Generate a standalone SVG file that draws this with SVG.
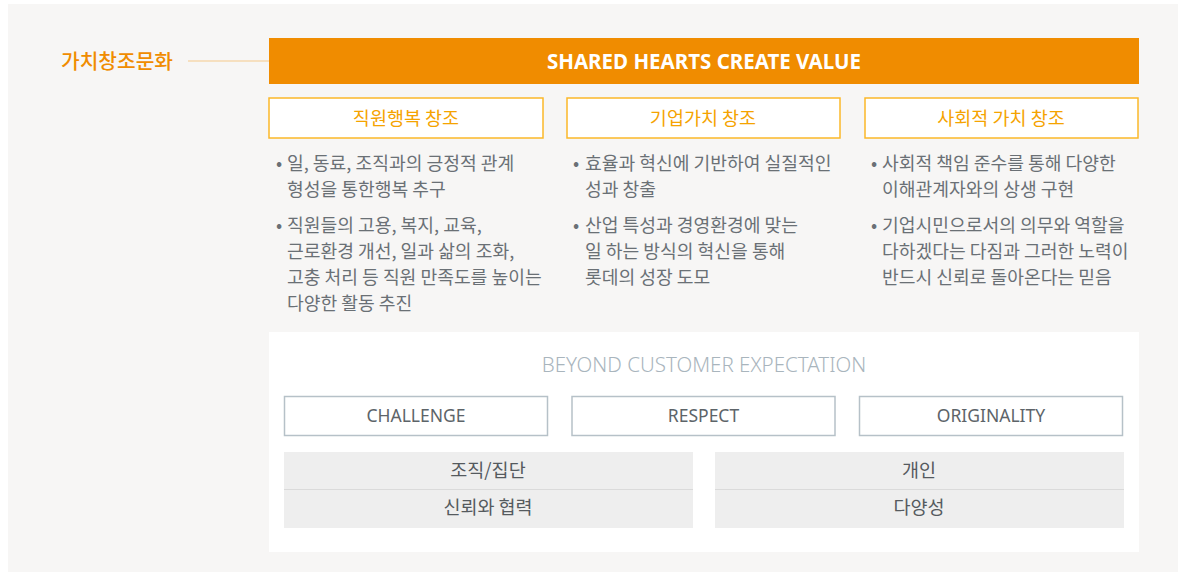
<svg xmlns="http://www.w3.org/2000/svg" width="1186" height="574" viewBox="0 0 1186 574">
<style>
.kr{font-family:"Noto Sans CJK KR","Noto Sans",sans-serif}
.hdr{fill:#fff;stroke:#fbb829;stroke-width:1.5}
.hdrt{font-size:18.5px;fill:#f5a300;text-anchor:middle}
.bl{font-size:18.2px;fill:#6a7075}
.vbox{fill:#fff;stroke:#b6c1c8;stroke-width:1.5}
.vt{font-family:"Noto Sans","Noto Sans CJK KR",sans-serif;font-size:17.5px;fill:#5d6469;text-anchor:middle}
.gbox{fill:#eeeeee}
.gt{font-size:18.5px;fill:#555a5e;text-anchor:middle}
</style>
<rect x="0" y="0" width="1186" height="574" fill="#ffffff"/>
<rect x="8" y="4" width="1170" height="568" fill="#f7f6f5"/>
<g id="connectors">
<line x1="188" y1="61" x2="269" y2="61" stroke="#f5c98a" stroke-width="1"/>
</g>
<g id="label-culture">
<text x="61" y="68.5" class="kr" font-size="20.3" font-weight="500" fill="#f08c00">가치창조문화</text>
</g>
<g id="banner">
<rect x="269" y="38" width="870" height="46" fill="#f08c00"/>
<text x="704" y="68.5" font-family="Noto Sans, sans-serif" font-weight="700" font-size="20.5" fill="#ffffff" text-anchor="middle">SHARED HEARTS CREATE VALUE</text>
</g>
<g id="col1">
<rect class="hdr" x="269" y="98" width="274" height="40"/>
<text class="kr hdrt" x="406" y="124.5">직원행복 창조</text>
<g class="kr bl">
<text x="276" y="170">•</text>
<text x="287" y="170">일, 동료, 조직과의 긍정적 관계</text>
<text x="287" y="196">형성을 통한행복 추구</text>
<text x="276" y="232">•</text>
<text x="287" y="232">직원들의 고용, 복지, 교육,</text>
<text x="287" y="258">근로환경 개선, 일과 삶의 조화,</text>
<text x="287" y="284">고충 처리 등 직원 만족도를 높이는</text>
<text x="287" y="310">다양한 활동 추진</text>
</g>
</g>
<g id="col2">
<rect class="hdr" x="567" y="98" width="273" height="40"/>
<text class="kr hdrt" x="703" y="124.5">기업가치 창조</text>
<g class="kr bl">
<text x="573" y="170">•</text>
<text x="585" y="170">효율과 혁신에 기반하여 실질적인</text>
<text x="585" y="196">성과 창출</text>
<text x="573" y="232">•</text>
<text x="585" y="232">산업 특성과 경영환경에 맞는</text>
<text x="585" y="258">일 하는 방식의 혁신을 통해</text>
<text x="585" y="284">롯데의 성장 도모</text>
</g>
</g>
<g id="col3">
<rect class="hdr" x="865" y="98" width="273" height="40"/>
<text class="kr hdrt" x="1001" y="124.5">사회적 가치 창조</text>
<g class="kr bl">
<text x="871" y="170">•</text>
<text x="882" y="170">사회적 책임 준수를 통해 다양한</text>
<text x="882" y="196">이해관계자와의 상생 구현</text>
<text x="871" y="232">•</text>
<text x="882" y="232">기업시민으로서의 의무와 역할을</text>
<text x="882" y="258">다하겠다는 다짐과 그러한 노력이</text>
<text x="882" y="284">반드시 신뢰로 돌아온다는 믿음</text>
</g>
</g>
<g id="values-panel">
<rect x="269" y="332" width="870" height="220" fill="#ffffff"/>
<text x="704" y="372" font-family="Noto Sans, sans-serif" font-weight="300" font-size="20.5" fill="#a9b5bd" text-anchor="middle">BEYOND CUSTOMER EXPECTATION</text>
</g>
<g id="challenge">
<rect class="vbox" x="284.5" y="396.5" width="263" height="39"/>
<text class="vt" x="416" y="422">CHALLENGE</text>
</g>
<g id="respect">
<rect class="vbox" x="572" y="396.5" width="263" height="39"/>
<text class="vt" x="703.5" y="422">RESPECT</text>
</g>
<g id="originality">
<rect class="vbox" x="859.5" y="396.5" width="263" height="39"/>
<text class="vt" x="991" y="422">ORIGINALITY</text>
</g>
<g id="group">
<rect class="gbox" x="284" y="452" width="409" height="76"/>
<line x1="284" y1="489.5" x2="693" y2="489.5" stroke="#dadada" stroke-width="1"/>
<text class="kr gt" x="488" y="477">조직/집단</text>
<text class="kr gt" x="488" y="514">신뢰와 협력</text>
</g>
<g id="individual">
<rect class="gbox" x="715" y="452" width="409" height="76"/>
<line x1="715" y1="489.5" x2="1124" y2="489.5" stroke="#dadada" stroke-width="1"/>
<text class="kr gt" x="919" y="477">개인</text>
<text class="kr gt" x="919" y="514">다양성</text>
</g>
</svg>
